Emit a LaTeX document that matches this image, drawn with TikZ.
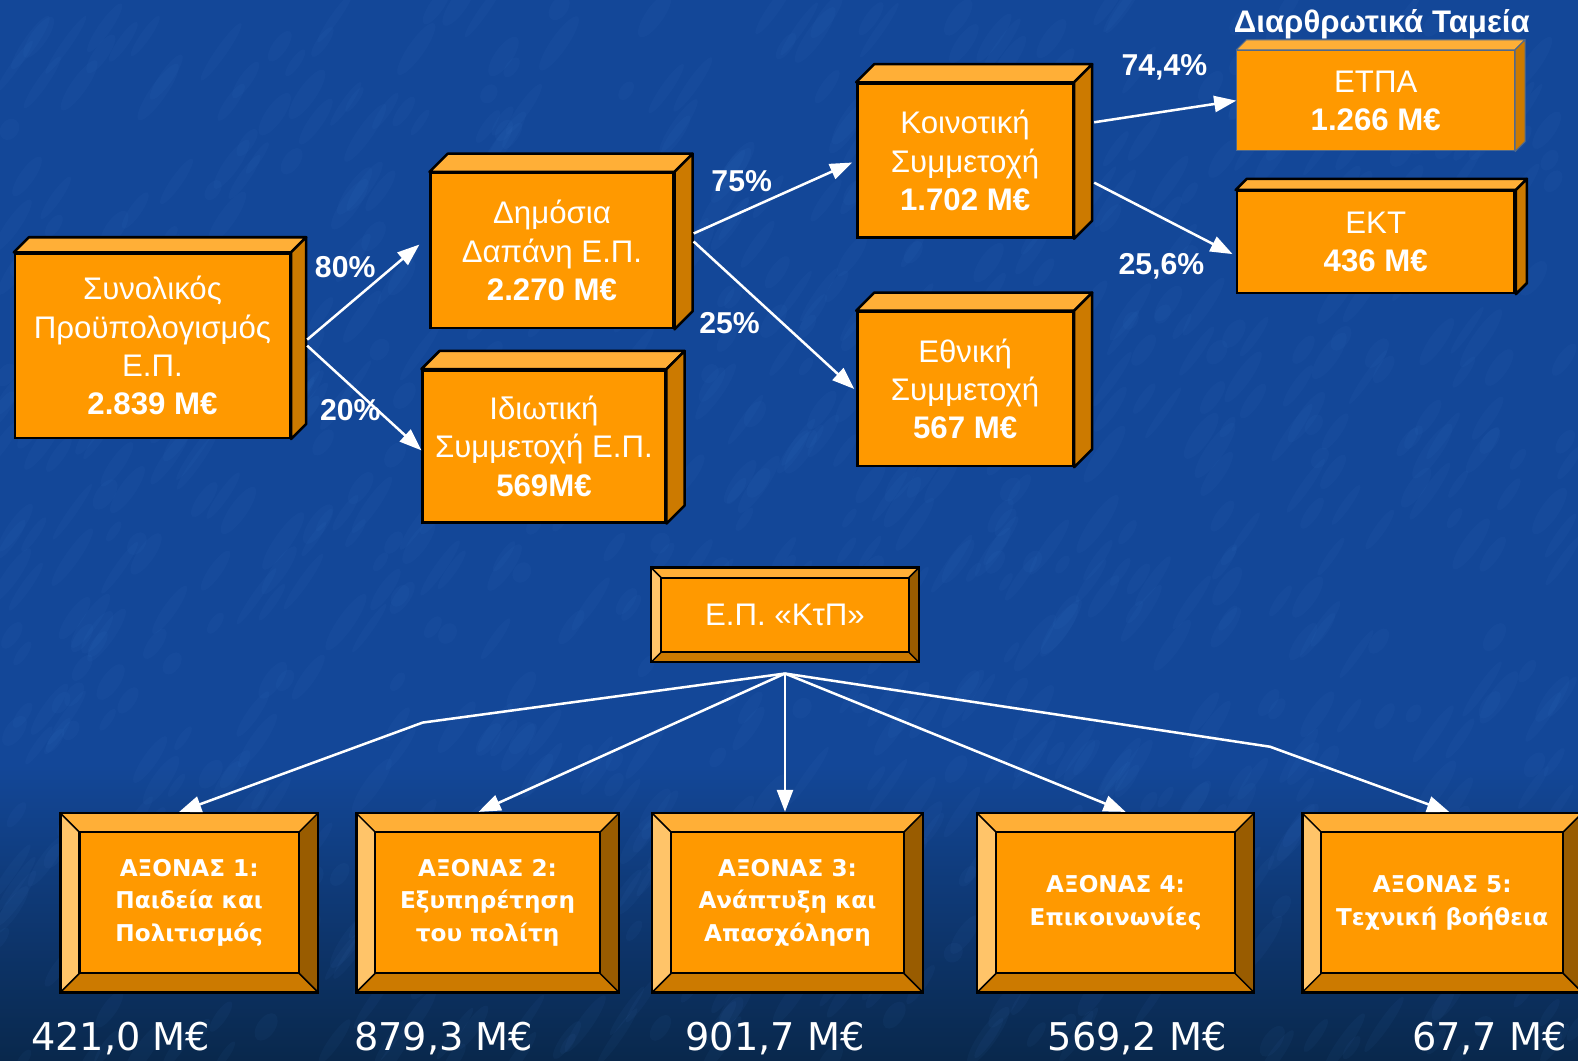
\documentclass[tikz,border=0pt]{standalone}
\usepackage{fontspec}
\setmainfont{Liberation Sans}
\newfontfamily\dejavu{DejaVu Sans}
\usetikzlibrary{arrows.meta}

\definecolor{bgblue}{RGB}{19,71,152}
\definecolor{bgdark}{RGB}{9,40,76}
\definecolor{streak}{RGB}{70,130,210}
\definecolor{boxfront}{RGB}{255,153,0}
\definecolor{boxtop}{RGB}{255,175,55}
\definecolor{boxside}{RGB}{204,122,0}
\definecolor{bevlight}{RGB}{255,196,105}
\definecolor{bevdark}{RGB}{153,92,0}
\definecolor{thinedge}{RGB}{80,105,140}

\newcommand{\boxfont}{\fontsize{31}{38}\selectfont}
\newcommand{\pctfont}{\fontsize{30}{32}\selectfont\bfseries}
\newcommand{\axfont}{\dejavu\bfseries\fontsize{23}{32.5}\selectfont}
\newcommand{\sumfont}{\dejavu\fontsize{38}{40}\selectfont}

% bevel faces of a button, drawn inside the node
\newcommand{\drawbevel}[1]{%
  \def\pb{path picture bounding box}%
  \fill[boxtop] (\pb.north west) -- (\pb.north east) -- ([shift={(-#1pt,-#1pt)}]\pb.north east) -- ([shift={(#1pt,-#1pt)}]\pb.north west) -- cycle;
  \fill[bevlight] (\pb.north west) -- ([shift={(#1pt,-#1pt)}]\pb.north west) -- ([shift={(#1pt,#1pt)}]\pb.south west) -- (\pb.south west) -- cycle;
  \fill[bevdark] (\pb.north east) -- (\pb.south east) -- ([shift={(-#1pt,#1pt)}]\pb.south east) -- ([shift={(-#1pt,-#1pt)}]\pb.north east) -- cycle;
  \fill[boxside] (\pb.south west) -- ([shift={(#1pt,#1pt)}]\pb.south west) -- ([shift={(-#1pt,#1pt)}]\pb.south east) -- (\pb.south east) -- cycle;
  \draw[black, line width=1.5pt] (\pb.north west) -- ([shift={(#1pt,-#1pt)}]\pb.north west)
    (\pb.north east) -- ([shift={(-#1pt,-#1pt)}]\pb.north east)
    (\pb.south west) -- ([shift={(#1pt,#1pt)}]\pb.south west)
    (\pb.south east) -- ([shift={(-#1pt,#1pt)}]\pb.south east);
  \draw[black, line width=2pt] ([shift={(#1pt,-#1pt)}]\pb.north west) rectangle ([shift={(-#1pt,#1pt)}]\pb.south east);
}

\tikzset{
  cube/.style={draw=black, line width=2.5pt, fill=boxfront, text=white, align=center, inner sep=0pt, font=\boxfont},
  btn/.style={draw=black, line width=2.5pt, fill=boxfront, text=white, align=center, inner sep=0pt, path picture={\drawbevel{#1}}},
  pct/.style={text=white, font=\pctfont, inner sep=0pt},
  arr/.style={draw=white, line width=2.5pt, -{Triangle[length=22pt,width=16pt]}},
  sum/.style={text=white, font=\sumfont, inner sep=0pt},
}

\begin{document}
\begin{tikzpicture}[x=1pt,y=-1pt]
\useasboundingbox (0,0) rectangle (1568,1054);
\fill[bgblue] (0,0) rectangle (1568,1054);
\shade[top color=bgblue, bottom color=bgdark] (0,760) rectangle (1568,1054);
% denim blotches
\pgfmathsetseed{42}
\foreach \i in {1,...,900}{
  \pgfmathsetmacro{\sx}{rnd*1568}
  \pgfmathsetmacro{\sy}{rnd*1054}
  \pgfmathsetmacro{\sl}{10+rnd*25}
  \pgfmathsetmacro{\sw}{4+rnd*5}
  \fill[streak, opacity=0.06] (\sx,\sy) ellipse[x radius=\sl, y radius=\sw, rotate=55];
}

% budget boxes
\node[cube, minimum width=273, minimum height=183] (tot) at (151.5,343.5) {Συνολικός\\Προϋπολογισμός\\Ε.Π.\\\textbf{2.839 Μ€}};
\node[cube, minimum width=241, minimum height=154] (pub) at (548.5,249) {Δημόσια\\Δαπάνη Ε.Π.\\\textbf{2.270 Μ€}};
\node[cube, minimum width=241, minimum height=151] (priv) at (540.5,443.5) {Ιδιωτική\\Συμμετοχή Ε.Π.\\\textbf{569Μ€}};
\node[cube, minimum width=214, minimum height=153] (comm) at (959,159.5) {Κοινοτική\\Συμμετοχή\\\textbf{1.702 Μ€}};
\node[cube, minimum width=214, minimum height=153] (nat) at (959,386.5) {Εθνική\\Συμμετοχή\\\textbf{567 Μ€}};
\node[cube, draw=thinedge, line width=1pt, minimum width=276, minimum height=100] (etpa) at (1367,100) {ΕΤΠΑ\\\textbf{1.266 Μ€}};
\node[cube, minimum width=276, minimum height=101] (ekt) at (1367,240.5) {ΕΚΤ\\\textbf{436 Μ€}};

\foreach \n/\off/\bc/\lw in {tot/15/black/2.5,pub/18/black/2.5,priv/18/black/2.5,comm/18/black/2.5,nat/18/black/2.5,etpa/10/thinedge/1,ekt/11/black/2.5}{
  \filldraw[fill=boxtop, draw=\bc, line width=\lw pt, line join=round] (\n.north west) -- ([shift={(\off pt,\off pt)}]\n.north west) -- ([shift={(\off pt,\off pt)}]\n.north east) -- (\n.north east) -- cycle;
  \filldraw[fill=boxside, draw=\bc, line width=\lw pt, line join=round] (\n.north east) -- ([shift={(\off pt,\off pt)}]\n.north east) -- ([shift={(\off pt,\off pt)}]\n.south east) -- (\n.south east) -- cycle;
}

\node[text=white, font=\fontsize{31}{33}\selectfont\bfseries, inner sep=0pt] (title) at (1373,24) {Διαρθρωτικά Ταμεία};

\node[pct] (p80) at (343,265) {80\%};
\node[pct] (p20) at (348,408) {20\%};
\node[pct] (p75) at (737,180) {75\%};
\node[pct] (p25) at (725,321) {25\%};
\node[pct] (p744) at (1157,67) {74,4\%};
\node[pct] (p256) at (1154,265) {25,6\%};

\draw[arr] ([shift={(16pt,6pt)}]tot.east) -- ([shift={(-10pt,6pt)}]pub.west);
\draw[arr] ([xshift=16pt]tot.east) -- ([yshift=-4pt]priv.west);
\draw[arr] ([shift={(19pt,17pt)}]pub.east) -- ([shift={(-4pt,-2pt)}]comm.west);
\draw[arr] ([shift={(19pt,9pt)}]pub.east) -- ([xshift=-2pt]nat.west);
\draw[arr] ([shift={(20pt,38pt)}]comm.east) -- (etpa.west);
\draw[arr] ([shift={(20pt,-22pt)}]comm.east) -- ([shift={(-3pt,-12pt)}]ekt.west);

% programme and its axes
\node[btn=10, minimum width=266, minimum height=94, font=\fontsize{31}{33}\selectfont] (kp) at (780,611) {Ε.Π. «ΚτΠ»};
\coordinate (hub) at ([yshift=-10pt]kp.south);

\node[btn=19, minimum width=256, minimum height=178, font=\axfont] (ax1) at (188,897) {ΑΞΟΝΑΣ 1:\\Παιδεία και\\Πολιτισμός};
\node[btn=19, minimum width=261, minimum height=178, font=\axfont] (ax2) at (484.5,897) {ΑΞΟΝΑΣ 2:\\Εξυπηρέτηση\\του πολίτη};
\node[btn=19, minimum width=269, minimum height=178, font=\axfont] (ax3) at (782.5,897) {ΑΞΟΝΑΣ 3:\\Ανάπτυξη και\\Απασχόληση};
\node[btn=19, minimum width=275, minimum height=178, font=\axfont] (ax4) at (1108.5,897) {ΑΞΟΝΑΣ 4:\\Επικοινωνίες};
\node[btn=19, minimum width=278, minimum height=178, font=\axfont] (ax5) at (1433,897) {ΑΞΟΝΑΣ 5:\\Τεχνική βοήθεια};

\coordinate (b1) at (420,718);
\coordinate (b5) at (1262,742);
\draw[arr] (hub) -- (b1) -- ([xshift=-10pt]ax1.north);
\draw[arr] (hub) -- ([xshift=-9pt]ax2.north);
\draw[arr] (hub) -- (hub |- ax3.north);
\draw[arr] (hub) -- ([xshift=10pt]ax4.north);
\draw[arr] (hub) -- (b5) -- ([xshift=7pt]ax5.north);

\node[sum] (s1) at (120,1032) {421,0 Μ€};
\node[sum] (s2) at (441,1032) {879,3 Μ€};
\node[sum] (s3) at (770,1032) {901,7 Μ€};
\node[sum] (s4) at (1130,1032) {569,2 Μ€};
\node[sum] (s5) at (1480,1032) {67,7 Μ€};
\end{tikzpicture}
\end{document}
